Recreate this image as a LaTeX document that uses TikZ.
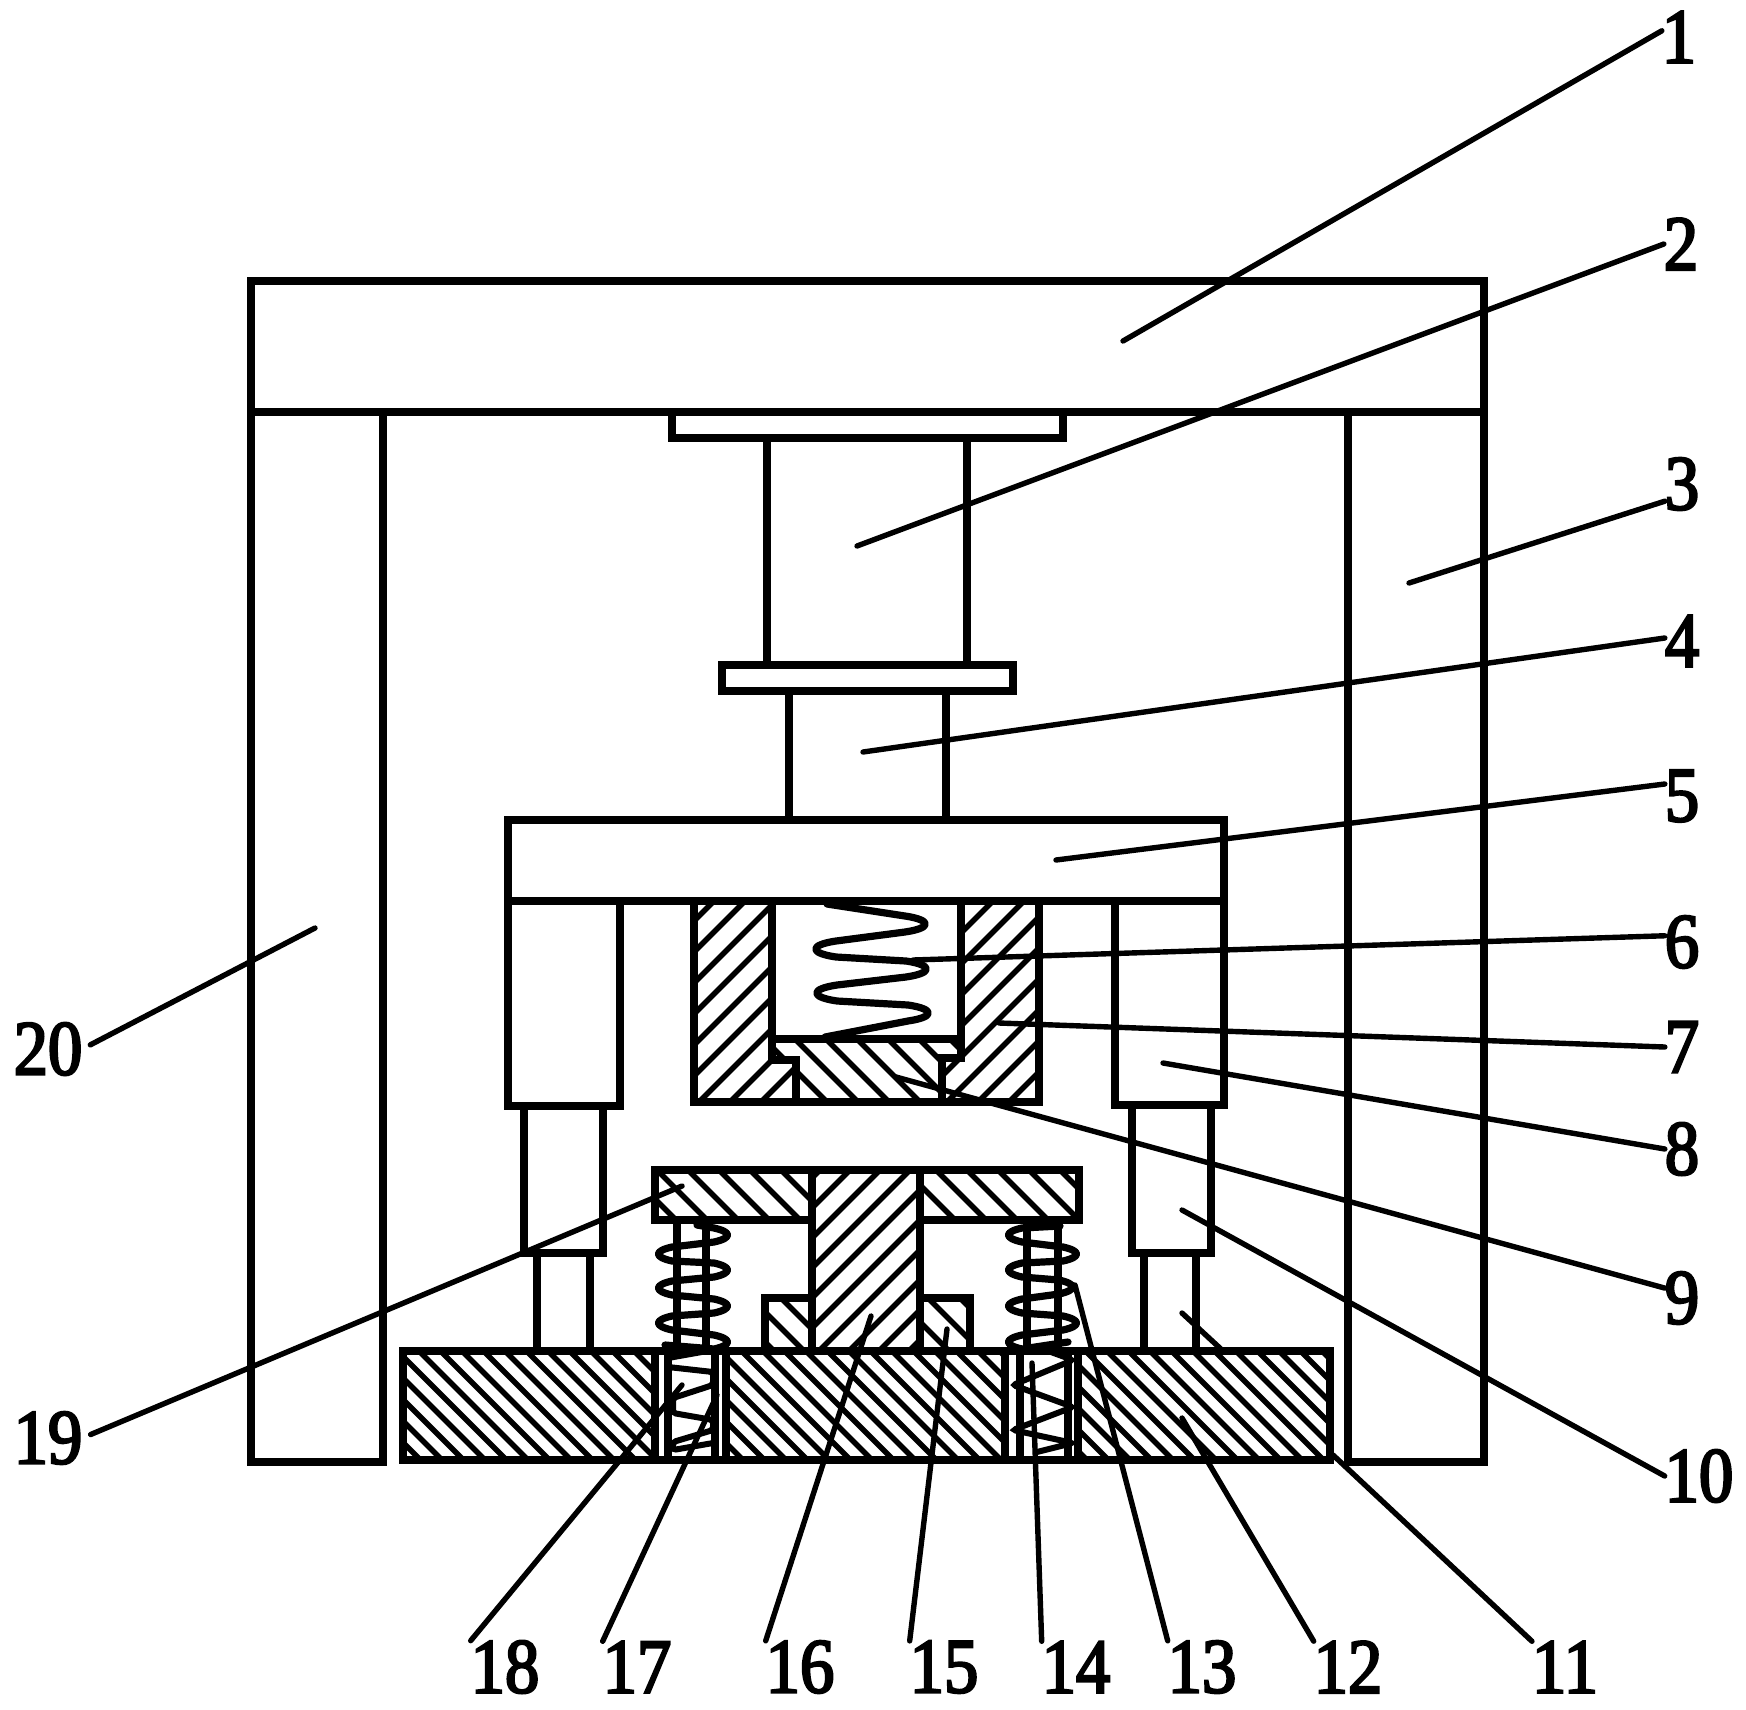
\documentclass[tikz,border=0pt]{standalone}
\usepackage{fontspec}
\newfontfamily\labfont[FakeStretch=0.88,FakeBold=3]{Liberation Serif}
\tikzset{
  part/.style={draw=black,line width=3.7pt,line join=miter},
  hatchline/.style={draw=black,line width=2.7pt},
  coil/.style={draw=black,line width=3.6pt,line cap=round,line join=round},
  coilin/.style={draw=black,line width=3pt,rounded corners=1.5pt,line cap=round},
  leader/.style={draw=black,line width=2.7pt,line cap=round},
  lab/.style={inner sep=0pt,outer sep=0pt,font=\labfont\fontsize{39}{39}\selectfont}
}
\def\tipR#1#2{-- ({#1-12},{#2-7}) .. controls ({#1+6},{#2-3}) and ({#1+6},{#2+3}) .. ({#1-12},{#2+7})}
\def\tipL#1#2{-- ({#1+12},{#2-7}) .. controls ({#1-6},{#2-3}) and ({#1-6},{#2+3}) .. ({#1+12},{#2+7})}
\def\bigR#1#2{-- ({#1-20},{#2-8}) .. controls ({#1+7},{#2-4}) and ({#1+7},{#2+4}) .. ({#1-20},{#2+8})}
\def\bigL#1#2{-- ({#1+20},{#2-8}) .. controls ({#1-7},{#2-4}) and ({#1-7},{#2+4}) .. ({#1+20},{#2+8})}
\newcommand{\hatchB}[4]{\begin{scope}\clip #1;\foreach \c in {#2,#3,...,#4}{\draw[hatchline](\c,0)--++(1709,1709);}\end{scope}}
\newcommand{\hatchF}[4]{\begin{scope}\clip #1;\foreach \c in {#2,#3,...,#4}{\draw[hatchline](\c,0)--++(-1709,1709);}\end{scope}}
\begin{document}
\begin{tikzpicture}[x=0.5pt,y=-0.5pt]
\useasboundingbox (0,0) rectangle (1746,1709);
\fill[white] (0,0) rectangle (1746,1709);
% hatching
\hatchB{(403,1351) rectangle (655,1460)}{-1061}{-1039.5}{0}
\hatchB{(726,1351) rectangle (1005,1460)}{-1061}{-1039.5}{0}
\hatchB{(1078,1351) rectangle (1330,1460)}{-1061}{-1039.5}{0}
\hatchF{(694,901)--(772,901)--(772,1060)--(796,1060)--(796,1102)--(694,1102)--cycle}{1584}{1615}{2142}
\hatchF{(961,901)--(1039,901)--(1039,1102)--(942,1102)--(942,1058)--(961,1058)--cycle}{1584}{1615}{2142}
\hatchB{(772,1039)--(961,1039)--(961,1058)--(942,1058)--(942,1102)--(796,1102)--(796,1060)--(772,1060)--cycle}{-337}{-306}{-61}
\hatchB{(655,1170) rectangle (812,1220)}{-575}{-544}{-79}
\hatchB{(920,1170) rectangle (1079,1220)}{-575}{-544}{-79}
\hatchF{(812,1170) rectangle (920,1351)}{1960}{1990}{2290}
\hatchB{(765,1298) rectangle (812,1351)}{-607}{-577}{-487}
\hatchB{(920,1298) rectangle (970,1351)}{-434}{-402}{-338}
% frame
\draw[part] (251,281) rectangle (1484,412);
\draw[part] (251,412) -- (251,1462) -- (383,1462) -- (383,412);
\draw[part] (1348,412) -- (1348,1462) -- (1484,1462) -- (1484,412);
% cylinder
\draw[part] (672,412) -- (672,438) -- (1063,438) -- (1063,412);
\draw[part] (767,438) -- (767,665);
\draw[part] (967,438) -- (967,665);
\draw[part] (722,665) rectangle (1013,691);
\draw[part] (789,691) -- (789,820);
\draw[part] (946,691) -- (946,820);
\draw[part] (508,820) rectangle (1224,901);
% side columns
\draw[part] (508,901) -- (508,1106) -- (620,1106) -- (620,901);
\draw[part] (1115,901) -- (1115,1105) -- (1224,1105) -- (1224,901);
\draw[part] (524,1106) -- (524,1253) -- (603,1253) -- (603,1106);
\draw[part] (1132,1105) -- (1132,1253) -- (1211,1253) -- (1211,1105);
\draw[part] (537,1253) -- (537,1351);
\draw[part] (590,1253) -- (590,1351);
\draw[part] (1144,1253) -- (1144,1351);
\draw[part] (1196,1253) -- (1196,1351);
% upper hatched block
\draw[part] (694,901) -- (694,1102) -- (1039,1102) -- (1039,901);
\draw[part] (772,901) -- (772,1060) -- (796,1060) -- (796,1102);
\draw[part] (961,901) -- (961,1058) -- (942,1058) -- (942,1102);
\draw[part] (772,1039) -- (961,1039);
\draw[coil] (827,904) \bigR{925}{924} \bigL{816}{949} \bigR{926}{969} \bigL{817}{993} \bigR{928}{1013} -- (825,1037);
% T piece
\draw[part] (812,1351) -- (812,1220) -- (655,1220) -- (655,1170) -- (1079,1170) -- (1079,1220) -- (920,1220) -- (920,1351);
\draw[part] (812,1170) -- (812,1220);
\draw[part] (920,1170) -- (920,1220);
\draw[part] (765,1351) -- (765,1298) -- (812,1298);
\draw[part] (920,1298) -- (970,1298) -- (970,1351);
% base plate
\draw[part] (403,1351) rectangle (1330,1460);
\draw[part] (655,1351) -- (655,1460);
\draw[part] (726,1351) -- (726,1460);
\draw[part] (1005,1351) -- (1005,1460);
\draw[part] (1078,1351) -- (1078,1460);
\draw[part] (668,1351) -- (668,1460);
\draw[part] (715,1351) -- (715,1460);
\draw[part] (1020,1351) -- (1020,1460);
\draw[part] (1068,1351) -- (1068,1460);
% rods
\draw[part] (677,1220) -- (677,1351);
\draw[part] (706,1220) -- (706,1351);
\draw[part] (1027,1220) -- (1027,1351);
\draw[part] (1058,1220) -- (1058,1351);
% springs
\draw[coil] (697,1225) \tipR{726}{1235} \tipL{660}{1254} \tipR{726}{1270} \tipL{660}{1288} \tipR{726}{1306} \tipL{660}{1323} \tipR{726}{1342} -- (665,1345);
\draw[coil] (1060,1226) \tipL{1010}{1235} \tipR{1075}{1254} \tipL{1010}{1270} \tipR{1071}{1287} \tipL{1010}{1306} \tipR{1075}{1323} \tipL{1010}{1342} -- (1068,1342);
\draw[coilin] (713,1350) -- (668,1358) -- (668,1367) -- (713,1372) -- (713,1385) -- (673,1398) -- (673,1413) -- (713,1420) -- (713,1430) -- (673,1442) -- (673,1450) -- (713,1443);
\draw[coilin] (1040,1348) -- (1073,1360) -- (1013,1385) -- (1073,1407) -- (1013,1430) -- (1073,1443) -- (1037,1452);
% labels
\node[lab] (l1) at (1679,37) {1};
\node[lab] (l2) at (1681,244) {2};
\node[lab] (l3) at (1682,484) {3};
\node[lab] (l4) at (1682,641) {4};
\node[lab] (l5) at (1682,796) {5};
\node[lab] (l6) at (1682,942) {6};
\node[lab] (l7) at (1682,1047) {7};
\node[lab] (l8) at (1682,1149) {8};
\node[lab] (l9) at (1682,1298) {9};
\node[lab] (l10) at (1699,1476) {10};
\node[lab] (l11) at (1565,1667) {11};
\node[lab] (l12) at (1348,1667) {12};
\node[lab] (l13) at (1202,1667) {13};
\node[lab] (l14) at (1076,1667) {14};
\node[lab] (l15) at (944,1667) {15};
\node[lab] (l16) at (800,1667) {16};
\node[lab] (l17) at (637,1667) {17};
\node[lab] (l18) at (505,1667) {18};
\node[lab] (l19) at (48,1438) {19};
\node[lab] (l20) at (48,1049) {20};
% leader free ends
\coordinate (a1) at (1123,341);
\coordinate (a2) at (857,546);
\coordinate (a3) at (1409,583);
\coordinate (a4) at (863,752);
\coordinate (a5) at (1056,860);
\coordinate (a6) at (913,960);
\coordinate (a7) at (999,1023);
\coordinate (a8) at (1163,1063);
\coordinate (a9) at (896,1077);
\coordinate (a10) at (1182,1210);
\coordinate (a11) at (1182,1313);
\coordinate (b11) at (1222,1350);
\coordinate (c11) at (1333,1455);
\coordinate (a12) at (1182,1418);
\coordinate (a13) at (1075,1285);
\coordinate (a14) at (1032,1363);
\coordinate (a15) at (947,1329);
\coordinate (a16) at (871,1316);
\coordinate (a17) at (717,1395);
\coordinate (a18) at (682,1385);
\coordinate (a19) at (682,1186);
\coordinate (a20) at (315,928);
% leaders
\draw[leader] (a1) -- (l1.160);
\draw[leader] (a2) -- (l2.west);
\draw[leader] (a3) -- (l3.225);
\draw[leader] (a4) -- (l4.170);
\draw[leader] (a5) -- (l5.145);
\draw[leader] (a6) -- (l6.160);
\draw[leader] (a7) -- (l7.west);
\draw[leader] (a8) -- (l8.west);
\draw[leader] (a9) -- (l9.150);
\draw[leader] (a10) -- (l10.west);
\draw[leader] (a11) -- (b11);
\draw[leader] (c11) -- (l11.north west);
\draw[leader] (a12) -- (l12.north west);
\draw[leader] (a13) -- (l13.north west);
\draw[leader] (a14) -- (l14.north west);
\draw[leader] (a15) -- (l15.north west);
\draw[leader] (a16) -- (l16.north west);
\draw[leader] (a17) -- (l17.north west);
\draw[leader] (a18) -- (l18.north west);
\draw[leader,shorten >=4.5pt] (a19) -- (l19.east);
\draw[leader,shorten >=4.5pt] (a20) -- (l20.east);
\end{tikzpicture}
\end{document}
